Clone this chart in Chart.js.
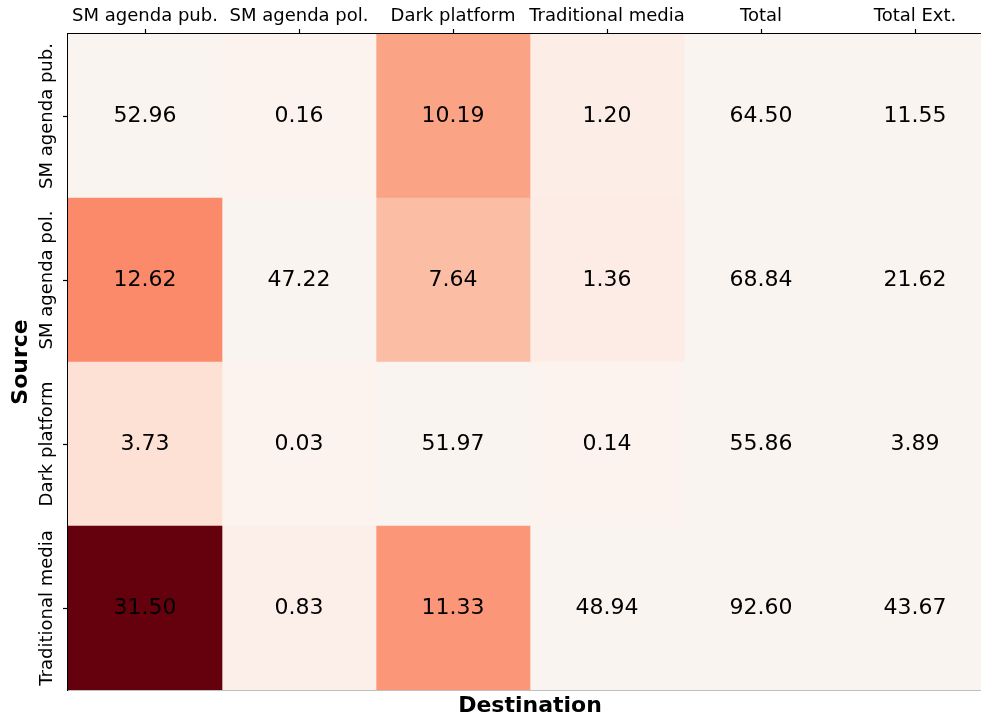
<!DOCTYPE html>
<html>
<head>
<meta charset="utf-8">
<script src="https://cdn.jsdelivr.net/npm/chart.js@4.4.1/dist/chart.umd.min.js"></script>
<style>
  html, body { margin: 0; padding: 0; background: #fff; overflow: hidden; }
  /* the original figure is cut off on the right, past the last column's middle */
  #wrap { width: 981px; height: 719px; overflow: hidden; }
</style>
</head>
<body>
<div id="wrap"><canvas id="heat" width="992" height="719"></canvas></div>
<script>
// rows = source, columns = destination
const rowLabels = ["SM agenda pub.", "SM agenda pol.", "Dark platform", "Traditional media"];
const colLabels = ["SM agenda pub.", "SM agenda pol.", "Dark platform", "Traditional media", "Total", "Total Ext."];

const smAgendaPub = [52.96, 0.16, 10.19, 1.20, 64.50, 11.55];
const smAgendaPol = [12.62, 47.22, 7.64, 1.36, 68.84, 21.62];
const darkPlatform = [3.73, 0.03, 51.97, 0.14, 55.86, 3.89];
const traditionalMedia = [31.50, 0.83, 11.33, 48.94, 92.60, 43.67];

const matrix = [smAgendaPub, smAgendaPol, darkPlatform, traditionalMedia];

// matplotlib "Reds" (slightly toned like the reference)
const reds = ["#fcf3ef", "#fde0d2", "#fbbba1", "#fb9272", "#fa6a4a", "#ee3b2c", "#ca181d", "#a40f15", "#65000d"];
const maskedColor = "#faf4f0";

function hexRgb(h) {
  return [parseInt(h.slice(1, 3), 16), parseInt(h.slice(3, 5), 16), parseInt(h.slice(5, 7), 16)];
}
function redsColor(t) {
  t = Math.max(0, Math.min(1, t));
  const p = t * (reds.length - 1);
  const i = Math.min(Math.floor(p), reds.length - 2);
  const f = p - i;
  const a = hexRgb(reds[i]), b = hexRgb(reds[i + 1]);
  const c = a.map((v, k) => Math.round(v + (b[k] - v) * f));
  return `rgb(${c[0]},${c[1]},${c[2]})`;
}

// diagonal and total columns are not coloured
const isMasked = (r, c) => r === c || c >= 4;
let vmax = 0;
matrix.forEach((row, r) => row.forEach((v, c) => { if (!isMasked(r, c)) vmax = Math.max(vmax, v); }));

const datasets = colLabels.map((name, c) => ({
  label: name,
  data: matrix.map(() => [c, c + 1]),
  backgroundColor: matrix.map((row, r) => isMasked(r, c) ? maskedColor : redsColor(row[c] / vmax)),
  borderWidth: 0,
  barPercentage: 1,
  categoryPercentage: 1,
  grouped: false
}));

const FONT = "'DejaVu Sans', sans-serif";

const cellText = {
  id: "cellText",
  afterDatasetsDraw(chart) {
    const { ctx, scales: { x, y } } = chart;
    ctx.save();
    ctx.fillStyle = "#000";
    ctx.font = "22px " + FONT;
    ctx.textAlign = "center";
    ctx.textBaseline = "middle";
    matrix.forEach((row, r) => {
      row.forEach((v, c) => {
        ctx.fillText(v.toFixed(2), x.getPixelForValue(c + 0.5), y.getPixelForValue(r));
      });
    });
    ctx.restore();

    // rotated row labels
    ctx.save();
    ctx.fillStyle = "#000";
    ctx.font = "18px " + FONT;
    ctx.textAlign = "center";
    ctx.textBaseline = "middle";
    rowLabels.forEach((lab, r) => {
      ctx.save();
      ctx.translate(y.left + 47, y.getPixelForValue(r));
      ctx.rotate(-Math.PI / 2);
      ctx.fillText(lab, 0, 0);
      ctx.restore();
    });
    ctx.restore();
  }
};

new Chart(document.getElementById("heat"), {
  type: "bar",
  data: { labels: rowLabels, datasets: datasets },
  options: {
    indexAxis: "y",
    responsive: false,
    animation: false,
    layout: { padding: 0 },
    plugins: { legend: { display: false }, tooltip: { enabled: false }, title: { display: false } },
    scales: {
      x: {
        type: "linear",
        position: "top",
        min: 0,
        max: colLabels.length,
        afterBuildTicks: (s) => { s.ticks = colLabels.map((_, c) => ({ value: c + 0.5 })); },
        afterFit: (s) => { s.height = 34; },
        ticks: {
          autoSkip: false,
          maxRotation: 0,
          minRotation: 0,
          padding: 2,
          color: "#000",
          font: { family: FONT, size: 18 },
          callback: (v, i) => colLabels[i]
        },
        grid: { drawOnChartArea: false, drawTicks: true, tickLength: 5, tickColor: "#000", tickWidth: 1.2 },
        border: { display: true, color: "#000", width: 1.2 }
      },
      x2: {
        type: "linear",
        position: "bottom",
        min: 0,
        max: 1,
        afterFit: (s) => { s.height = 29; },
        ticks: { display: false },
        grid: { display: false, drawTicks: false },
        border: { display: true, color: "#000", width: 1.2 },
        title: {
          display: true,
          text: "Destination",
          color: "#000",
          padding: { top: 0, bottom: 0 },
          font: { family: FONT, size: 22, weight: "bold" }
        }
      },
      y: {
        type: "category",
        offset: true,
        afterFit: (s) => { s.width = 68; },
        ticks: { display: false },
        grid: { offset: false, drawOnChartArea: false, drawTicks: true, tickLength: 5, tickColor: "#000", tickWidth: 1.2 },
        border: { display: true, color: "#000", width: 1.2 },
        title: {
          display: true,
          text: "Source",
          color: "#000",
          padding: { top: 8, bottom: 0 },
          font: { family: FONT, size: 22, weight: "bold" }
        }
      }
    }
  },
  plugins: [cellText]
});
</script>
</body>
</html>
